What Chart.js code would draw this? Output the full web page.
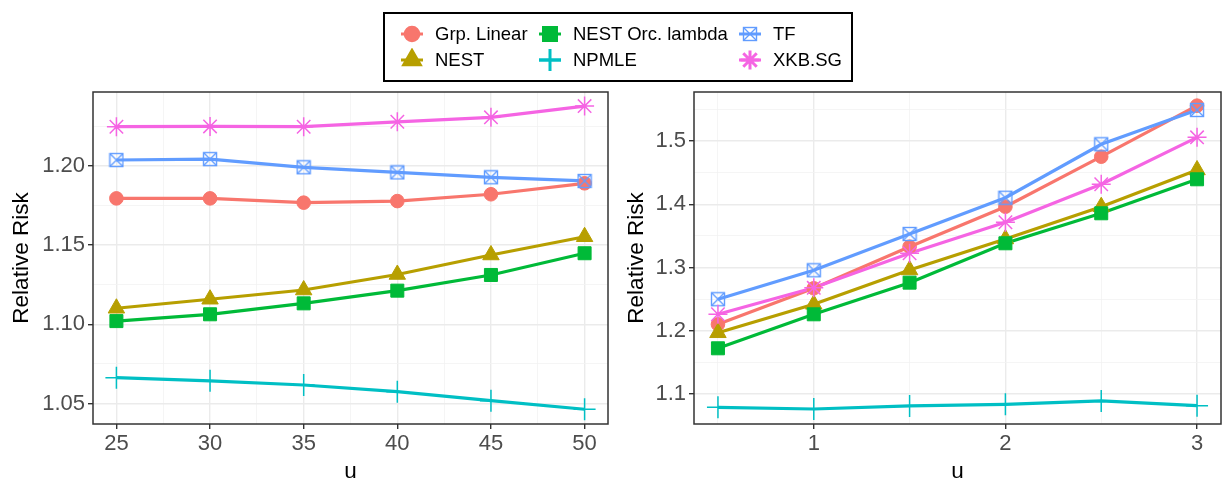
<!DOCTYPE html>
<html>
<head>
<meta charset="utf-8">
<script src="https://cdn.jsdelivr.net/npm/chart.js@4.4.1/dist/chart.umd.min.js"></script>
<style>
  body { margin: 0; width: 1223px; height: 478px; background: #fff; position: relative; overflow: hidden;
         font-family: "Liberation Sans", Arial, sans-serif; }
  #left { position: absolute; left: 0; top: 82px; }
  #right { position: absolute; left: 612px; top: 82px; }
  #legend { position: absolute; left: 383px; top: 12px; width: 466px; height: 66px; border: 2px solid #000; background: #fff; }
  .item { position: absolute; height: 24px; display: flex; align-items: center; font-size: 18.5px; color: #000; white-space: nowrap; }
  .item span { margin-left: 8px; }
</style>
</head>
<body>
<div id="legend"></div>
<canvas id="left" width="612" height="396"></canvas>
<canvas id="right" width="611" height="396"></canvas>
<script>
// series (legend order)
const seriesNames = ['Grp. Linear', 'NEST', 'NEST Orc. lambda', 'NPMLE', 'TF', 'XKB.SG'];
const seriesColors = ['#F8766D', '#B79F00', '#00BA38', '#00BFC4', '#619CFF', '#F564E3'];

// left panel
const uLeft = [25, 30, 35, 40, 45, 50];
const leftGrpLinear = [1.1794, 1.1794, 1.1767, 1.1777, 1.1820, 1.1889];
const leftNEST      = [1.1101, 1.1158, 1.1216, 1.1314, 1.1437, 1.1552];
const leftNESTOrc   = [1.1020, 1.1063, 1.1132, 1.1212, 1.1311, 1.1448];
const leftNPMLE     = [1.0663, 1.0643, 1.0617, 1.0575, 1.0518, 1.0464];
const leftTF        = [1.2036, 1.2042, 1.1990, 1.1958, 1.1927, 1.1904];
const leftXKB       = [1.2246, 1.2248, 1.2246, 1.2277, 1.2305, 1.2376];

// right panel
const uRight = [0.5, 1, 1.5, 2, 2.5, 3];
const rightGrpLinear = [1.2104, 1.2673, 1.3330, 1.3962, 1.4752, 1.5558];
const rightNEST      = [1.1970, 1.2420, 1.2962, 1.3452, 1.3962, 1.4542];
const rightNESTOrc   = [1.1725, 1.2262, 1.2762, 1.3384, 1.3858, 1.4395];
const rightNPMLE     = [1.0793, 1.0766, 1.0814, 1.0840, 1.0893, 1.0818];
const rightTF        = [1.2500, 1.2957, 1.3531, 1.4104, 1.4948, 1.5490];
const rightXKB       = [1.2262, 1.2680, 1.3226, 1.3716, 1.4316, 1.5058];

// ticks
const leftXTicks = [25, 30, 35, 40, 45, 50];
const leftXTickLabels = ['25', '30', '35', '40', '45', '50'];
const leftXMinor = [27.5, 32.5, 37.5, 42.5, 47.5];
const leftYTicks = [1.05, 1.10, 1.15, 1.20];
const leftYTickLabels = ['1.05', '1.10', '1.15', '1.20'];
const leftYMinor = [1.075, 1.125, 1.175, 1.225];
const rightXTicks = [1, 2, 3];
const rightXTickLabels = ['1', '2', '3'];
const rightXMinor = [0.5, 1.5, 2.5];
const rightYTicks = [1.1, 1.2, 1.3, 1.4, 1.5];
const rightYTickLabels = ['1.1', '1.2', '1.3', '1.4', '1.5'];
const rightYMinor = [1.15, 1.25, 1.35, 1.45, 1.55];

// boxed X marker for TF
function boxX(color) {
  const c = document.createElement('canvas');
  c.width = 16; c.height = 16;
  const g = c.getContext('2d');
  g.strokeStyle = color; g.lineWidth = 1.4;
  g.strokeRect(1.5, 1.5, 13, 13);
  g.beginPath();
  g.moveTo(1.5, 1.5); g.lineTo(14.5, 14.5);
  g.moveTo(14.5, 1.5); g.lineTo(1.5, 14.5);
  g.stroke();
  return c;
}

const markers = [
  { style: 'circle', radius: 6.8, width: 1 },
  { style: 'triangle', radius: 9.5, width: 1 },
  { style: 'rect', radius: 9.2, width: 1 },
  { style: 'cross', radius: 11, width: 1.5 },
  { style: boxX(seriesColors[4]), radius: 8, width: 1 },
  { style: 'star', radius: 9.5, width: 1.5 }
];

function makeDatasets(u, values) {
  const sets = [];
  values.forEach((vals, i) => {
    const pts = u.map((x, k) => ({ x: x, y: vals[k] }));
    sets.push({
      label: seriesNames[i], data: pts, borderColor: seriesColors[i], borderWidth: 3.2,
      pointRadius: 0, fill: false, tension: 0, order: 20 - i
    });
    sets.push({
      label: seriesNames[i] + ' pts', data: pts, showLine: false,
      borderColor: seriesColors[i], backgroundColor: seriesColors[i],
      pointStyle: markers[i].style, pointRadius: markers[i].radius,
      pointBorderWidth: markers[i].width, order: 10 - i
    });
  });
  return sets;
}

function isIn(list, v) { return list.some(m => Math.abs(m - v) < 1e-9); }

function axis(opts) {
  const all = opts.major.concat(opts.minor).sort((a, b) => a - b);
  return {
    type: 'linear', position: opts.position, min: opts.min, max: opts.max,
    afterBuildTicks: s => { s.ticks = all.map(v => ({ value: v })); },
    afterFit: s => {
      if (opts.position === 'left') s.width = opts.size; else s.height = opts.size;
      s.paddingLeft = 0; s.paddingRight = 0; s.paddingTop = 0; s.paddingBottom = 0;
    },
    ticks: {
      autoSkip: false, maxRotation: 0, color: '#4D4D4D', padding: opts.tickPad,
      font: { family: '"Liberation Sans", Arial, sans-serif', size: 22 },
      callback: v => { const i = opts.major.findIndex(m => Math.abs(m - v) < 1e-9); return i >= 0 ? opts.labels[i] : ''; }
    },
    grid: {
      color: c => (c.tick && isIn(opts.major, c.tick.value)) ? '#EBEBEB' : '#F2F2F2',
      lineWidth: c => (c.tick && isIn(opts.major, c.tick.value)) ? 1.4 : 0.8,
      tickColor: c => (c.tick && isIn(opts.major, c.tick.value)) ? '#333333' : 'rgba(0,0,0,0)',
      tickLength: 5, drawTicks: true
    },
    border: { display: false },
    title: {
      display: true, text: opts.title, color: '#000',
      font: { family: '"Liberation Sans", Arial, sans-serif', size: 22.5 },
      padding: opts.titlePad
    }
  };
}

const panelBorder = {
  id: 'panelBorder',
  afterDatasetsDraw(chart) {
    const a = chart.chartArea, ctx = chart.ctx;
    ctx.save();
    ctx.strokeStyle = '#333333';
    ctx.lineWidth = 1.5;
    ctx.strokeRect(a.left, a.top, a.right - a.left, a.bottom - a.top);
    ctx.restore();
  }
};

function makeChart(id, u, values, xAxis, yAxis, pad) {
  return new Chart(document.getElementById(id), {
    type: 'line',
    data: { datasets: makeDatasets(u, values) },
    options: {
      responsive: false, animation: false,
      layout: { padding: pad, autoPadding: false },
      plugins: { legend: { display: false }, tooltip: { enabled: false } },
      scales: { x: xAxis, y: yAxis }
    },
    plugins: [panelBorder]
  });
}

makeChart('left', uLeft,
  [leftGrpLinear, leftNEST, leftNESTOrc, leftNPMLE, leftTF, leftXKB],
  axis({ position: 'bottom', min: 23.75, max: 51.25, major: leftXTicks, minor: leftXMinor, labels: leftXTickLabels,
         title: 'u', size: 54, tickPad: 2, titlePad: { top: 0, bottom: -7 } }),
  axis({ position: 'left', min: 1.0371, max: 1.2465, major: leftYTicks, minor: leftYMinor, labels: leftYTickLabels,
         title: 'Relative Risk', size: 93, tickPad: 3, titlePad: { top: 8.5, bottom: 0 } }),
  { left: 0, right: 4, top: 10, bottom: 0 });

makeChart('right', uRight,
  [rightGrpLinear, rightNEST, rightNESTOrc, rightNPMLE, rightTF, rightXKB],
  axis({ position: 'bottom', min: 0.375, max: 3.125, major: rightXTicks, minor: rightXMinor, labels: rightXTickLabels,
         title: 'u', size: 54, tickPad: 2, titlePad: { top: 0, bottom: -7 } }),
  axis({ position: 'left', min: 1.0529, max: 1.5774, major: rightYTicks, minor: rightYMinor, labels: rightYTickLabels,
         title: 'Relative Risk', size: 82, tickPad: 3, titlePad: { top: 11, bottom: 0 } }),
  { left: 0, right: 2, top: 10, bottom: 0 });

// legend (3 columns, filled column by column)
const legendCols = [27, 165, 365];
const legendRows = [20, 46];
const legend = document.getElementById('legend');
seriesNames.forEach((name, i) => {
  const col = Math.floor(i / 2), row = i % 2;
  const item = document.createElement('div');
  item.className = 'item';
  item.style.left = (legendCols[col] - 15) + 'px';
  item.style.top = (legendRows[row] - 12) + 'px';
  const key = document.createElement('canvas');
  key.width = 30; key.height = 24;
  const g = key.getContext('2d');
  g.strokeStyle = seriesColors[i]; g.lineWidth = 3;
  g.beginPath(); g.moveTo(4, 12); g.lineTo(26, 12); g.stroke();
  g.fillStyle = seriesColors[i]; g.strokeStyle = seriesColors[i];
  Chart.helpers.drawPoint(g, { pointStyle: markers[i].style, radius: markers[i].radius, rotation: 0, borderWidth: markers[i].width }, 15, 12);
  const txt = document.createElement('span');
  txt.textContent = name;
  item.appendChild(key);
  item.appendChild(txt);
  legend.appendChild(item);
});
</script>
</body>
</html>
